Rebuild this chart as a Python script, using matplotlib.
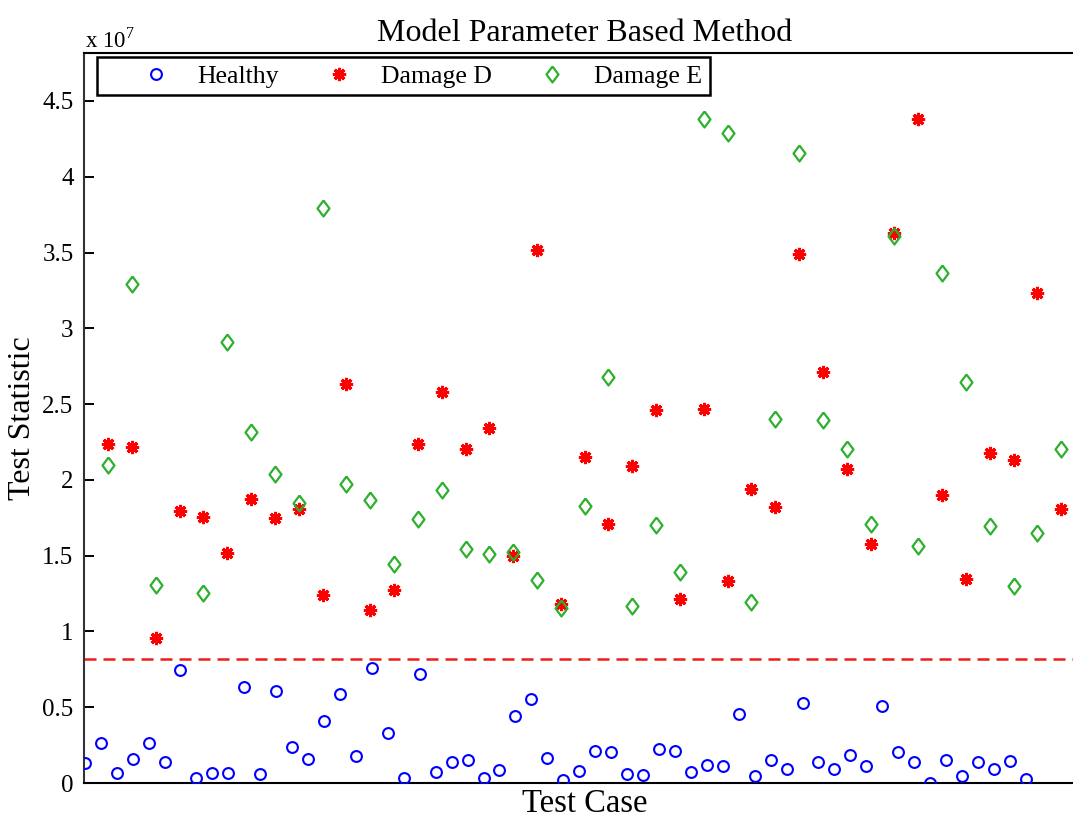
import numpy as np
import matplotlib
matplotlib.use("Agg")
import matplotlib.pyplot as plt
from matplotlib.ticker import FormatStrFormatter

plt.rcParams['font.family'] = ['Liberation Serif', 'DejaVu Serif']
plt.rcParams['mathtext.fontset'] = 'custom'
plt.rcParams['mathtext.rm'] = 'Liberation Serif'

# ---- data (Test Statistic, units of 1e7) ----
healthy = [0.130, 0.266, 0.063, 0.156, 0.262, 0.139, 0.747, 0.035, 0.068, 0.063,
           0.634, 0.057, 0.608, 0.240, 0.156, 0.410, 0.584, 0.176, 0.762, 0.330,
           0.033, 0.722, 0.073, 0.136, 0.149, 0.035, 0.088, 0.445, 0.557, 0.163,
           0.022, 0.079, 0.213, 0.205, 0.059, 0.050, 0.225, 0.211, 0.075, 0.121,
           0.110, 0.458, 0.044, 0.152, 0.092, 0.531, 0.136, 0.095, 0.187, 0.114,
           0.509, 0.205, 0.139, 0.002, 0.152, 0.048, 0.136, 0.095, 0.145, 0.024]
damage_d = [2.234, 2.218, 0.958, 1.793, 1.755, 1.520, 1.877, 1.751, 1.806, 1.238,
            2.630, 1.139, 1.271, 2.236, 2.582, 2.207, 2.344, 1.496, 3.516, 1.183,
            2.152, 1.712, 2.090, 2.463, 1.216, 2.469, 1.335, 1.939, 1.822, 3.492,
            2.710, 2.075, 1.575, 3.628, 4.384, 1.901, 1.344, 2.178, 2.130, 3.232,
            1.806]
damage_e = [2.099, 3.291, 1.306, np.nan, 1.256, 2.908, 2.315, 2.036, 1.848, 3.791,
            1.976, 1.870, 1.447, 1.745, 1.932, 1.542, 1.513, 1.524, 1.337, 1.154,
            1.826, 2.677, 1.170, 1.701, 1.390, 4.384, 4.289, 1.194, 2.399, 4.155,
            2.395, 2.201, 1.707, 3.606, 1.564, 3.366, 2.648, 1.694, 1.297, 1.650,
            2.207]
threshold = 0.82
yticks = [0, 0.5, 1, 1.5, 2, 2.5, 3, 3.5, 4, 4.5]

x_h = np.arange(1, len(healthy) + 1)
x_d = np.linspace(2.46, 62.22, len(damage_d))

W, H = 1073, 819
fig = plt.figure(figsize=(W / 100, H / 100), dpi=100)
ax_w = 1002
ax = fig.add_axes([84 / W, 1 - 783 / H, ax_w / W, (783 - 52.5) / H])

blue = '#0000FF'
red = '#FF0000'
green = '#2DB02D'

diamond = [(0, 1), (0.75, 0), (0, -1), (-0.75, 0), (0, 1)]

ax.plot(x_h, healthy, linestyle='none', marker='o', ms=7.8, mfc='none',
        mec=blue, mew=1.5, label='Healthy', zorder=3)
ax.plot(x_d, damage_d, linestyle='none', marker=(8, 2, 0), ms=9.5,
        mec=red, mfc=red, mew=2.2, label='Damage D', zorder=3)
ax.plot(x_d, damage_e, linestyle='none', marker=diamond, ms=11.5, mfc='none',
        mec=green, mew=1.6, label='Damage E', zorder=4)
ax.axhline(threshold, color='#EE1C1C', lw=1.8, linestyle=(0, (4.8, 2.8)), zorder=2)

ax.set_xlim(0.95, 0.95 + ax_w / 15.95)
ax.set_ylim(0, 4.82)
ax.set_xticks([])
ax.set_yticks(yticks)
ax.yaxis.set_major_formatter(FormatStrFormatter('%g'))
ax.tick_params(axis='y', direction='in', length=7, width=1.4, labelsize=18, pad=7.5)

for s in ['left', 'top', 'bottom', 'right']:
    ax.spines[s].set_linewidth(1.5)
ax.spines['left'].set_color('#333333')

ax.set_title('Model Parameter Based Method', fontsize=23, pad=8)
ax.set_xlabel('Test Case', fontsize=23.5, labelpad=4)
ax.set_ylabel('Test Statistic', fontsize=23)
ax.yaxis.set_label_coords(-47 / ax_w, 0.5)

fig.text(85 / W, 1 - 48 / H, r'x 10$^{7}$', fontsize=16.5, ha='left', va='baseline')

leg = ax.legend(ncol=3, loc='upper left', bbox_to_anchor=(97 / W, 1 - 57 / H),
                bbox_transform=fig.transFigure, borderaxespad=0, fontsize=18.5,
                frameon=True, fancybox=False, framealpha=1, edgecolor='black',
                borderpad=0.3, handlelength=3.97, handletextpad=-0.35,
                columnspacing=0.35, numpoints=1)
leg.get_frame().set_linewidth(1.8)
leg.set_zorder(10)

fig.savefig('out.png', dpi=100)
